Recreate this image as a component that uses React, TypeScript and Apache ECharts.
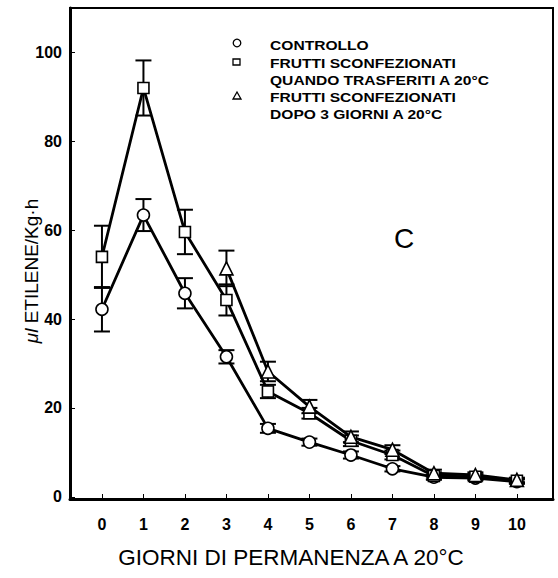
import React, { useEffect, useRef } from "react";
import * as echarts from "echarts";

const days = [0, 1, 2, 3, 4, 5, 6, 7, 8, 9, 10];
const controllo = [42.2, 63.4, 45.8, 31.5, 15.4, 12.3, 9.4, 6.3, 4.4, 4.2, 3.4];
const controlloErr = [5, 3.6, 3.4, 1.5, 1.0, 0.8, 0.8, 0.6, 0.5, 0.5, 0.5];
const quandoTrasferiti = [54.0, 92.0, 59.6, 44.3, 23.7, 18.8, 12.6, 9.4, 4.7, 4.5, 3.6];
const quandoErr = [7, 6.2, 5, 3.5, 1.5, 1.2, 1.2, 1.0, 0.8, 0.6, 0.5];
const dopoDays = [3, 4, 5, 6, 7, 8, 9, 10];
const dopo3Giorni = [51.4, 28.2, 20.3, 13.5, 10.6, 5.3, 4.9, 3.8];
const dopoErr = [4, 2.2, 1.5, 1.2, 1.0, 0.8, 0.6, 0.5];
const xTicks = [0, 1, 2, 3, 4, 5, 6, 7, 8, 9, 10];
const yTicks = [0, 20, 40, 60, 80, 100];

const legendLines = [
  "CONTROLLO",
  "FRUTTI SCONFEZIONATI",
  "QUANDO TRASFERITI A 20°C",
  "FRUTTI SCONFEZIONATI",
  "DOPO 3 GIORNI A 20°C",
];

const FONT = "'Liberation Sans', Arial, sans-serif";

function errData(xs: number[], ys: number[], es: number[]) {
  return xs.map((x, i) => [x, ys[i], es[i]]);
}

function errSeries(data: number[][]) {
  return {
    type: "custom",
    z: 1,
    silent: true,
    renderItem: (params: any, api: any) => {
      const x = api.value(0);
      const y = api.value(1);
      const e = api.value(2);
      const top = api.coord([x, y + e]);
      const bot = api.coord([x, y - e]);
      const hw = 8;
      const st = { stroke: "#000", lineWidth: 2 };
      return {
        type: "group",
        children: [
          { type: "line", shape: { x1: top[0], y1: top[1], x2: bot[0], y2: bot[1] }, style: st },
          { type: "line", shape: { x1: top[0] - hw, y1: top[1], x2: top[0] + hw, y2: top[1] }, style: st },
          { type: "line", shape: { x1: bot[0] - hw, y1: bot[1], x2: bot[0] + hw, y2: bot[1] }, style: st },
        ],
      };
    },
    encode: { x: 0, y: 1 },
    data,
  };
}

function lineSeries(name: string, xs: number[], ys: number[], symbol: string, size: number) {
  return {
    name,
    type: "line",
    z: 3,
    data: xs.map((x, i) => [x, ys[i]]),
    symbol,
    symbolSize: size,
    showAllSymbol: true,
    lineStyle: { color: "#000", width: 2.8 },
    itemStyle: { color: "#fff", borderColor: "#000", borderWidth: 1.6 },
  };
}

export default function App() {
  const ref = useRef<HTMLDivElement>(null);
  useEffect(() => {
    document.body.style.margin = "0";
    if (!ref.current) return;
    const chart = echarts.init(ref.current, null, { renderer: "svg" });
    const legendY = [45, 63, 80, 97, 114];
    chart.setOption({
      animation: false,
      backgroundColor: "#fff",
      grid: {
        left: 70,
        right: 5,
        top: 8,
        bottom: 79,
        show: true,
        borderColor: "#000",
        borderWidth: 2,
      },
      xAxis: {
        type: "value",
        min: -0.77,
        max: 10.87,
        splitLine: { show: false },
        axisLine: { onZero: false, lineStyle: { color: "#000", width: 3 } },
        axisTick: {
          inside: true,
          length: 5,
          lineStyle: { color: "#000", width: 1 },
          customValues: xTicks,
        },
        axisLabel: {
          customValues: xTicks,
          color: "#000",
          fontFamily: FONT,
          fontSize: 16,
          fontWeight: "bold",
          margin: 17,
        },
      },
      yAxis: {
        type: "value",
        min: -0.5,
        max: 110,
        splitLine: { show: false },
        axisLine: { onZero: false, lineStyle: { color: "#000", width: 3 } },
        axisTick: {
          inside: true,
          length: 5,
          lineStyle: { color: "#000", width: 1 },
          customValues: yTicks,
        },
        axisLabel: {
          customValues: yTicks,
          color: "#000",
          fontFamily: FONT,
          fontSize: 16,
          fontWeight: "bold",
          margin: 8,
        },
      },
      series: [
        errSeries(errData(days, controllo, controlloErr)),
        errSeries(errData(days, quandoTrasferiti, quandoErr)),
        errSeries(errData(dopoDays, dopo3Giorni, dopoErr)),
        lineSeries(legendLines[0], days, controllo, "circle", 12),
        lineSeries(legendLines[1] + " " + legendLines[2], days, quandoTrasferiti, "rect", 11),
        lineSeries(legendLines[3] + " " + legendLines[4], dopoDays, dopo3Giorni, "triangle", 13),
      ],
      graphic: [
        { type: "circle", shape: { cx: 237, cy: 43, r: 3.8 }, style: { fill: "#fff", stroke: "#000", lineWidth: 1.3 } },
        { type: "rect", shape: { x: 233, y: 59, width: 7, height: 6 }, style: { fill: "#fff", stroke: "#000", lineWidth: 1.3 } },
        { type: "polygon", shape: { points: [[237, 92], [233, 99], [241, 99]] }, style: { fill: "#fff", stroke: "#000", lineWidth: 1.3 } },
        ...legendLines.map((t, i) => ({
          type: "text",
          x: 270,
          y: legendY[i],
          scaleX: 1.2,
          style: {
            text: t,
            fill: "#000",
            font: `bold 13px ${FONT}`,
            textAlign: "left",
            textVerticalAlign: "middle",
          },
        })),
        {
          type: "text",
          x: 404,
          y: 238,
          style: {
            text: "C",
            fill: "#000",
            font: `28px ${FONT}`,
            textAlign: "center",
            textVerticalAlign: "middle",
          },
        },
        {
          type: "text",
          x: 291,
          y: 557,
          style: {
            text: "GIORNI DI PERMANENZA A 20°C",
            fill: "#000",
            font: `22.5px ${FONT}`,
            textAlign: "center",
            textVerticalAlign: "middle",
          },
        },
        {
          type: "text",
          x: 31,
          y: 271,
          rotation: Math.PI / 2,
          style: {
            text: "{it|μl} ETILENE/Kg·h",
            fill: "#000",
            font: `19px ${FONT}`,
            textAlign: "center",
            textVerticalAlign: "middle",
            rich: {
              it: { fontStyle: "italic", fontSize: 19, fontFamily: FONT, fill: "#000" },
            },
          },
        },
      ],
    });
    return () => chart.dispose();
  }, []);
  return <div ref={ref} style={{ width: 558, height: 578 }} />;
}
